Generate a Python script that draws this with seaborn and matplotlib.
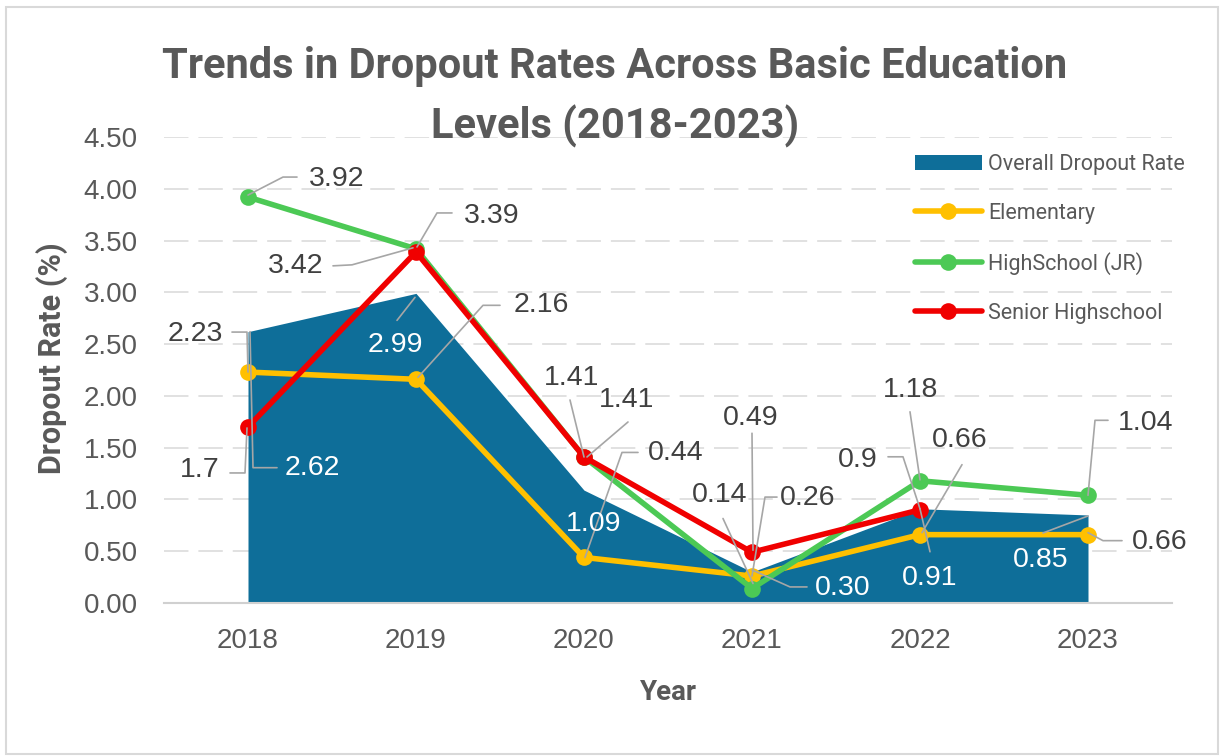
import matplotlib
matplotlib.use("Agg")
import matplotlib.pyplot as plt
import matplotlib.transforms as mtransforms
from matplotlib.lines import Line2D
from matplotlib.patches import Patch, Rectangle
import pandas as pd
import seaborn as sns

# data
years = [2018, 2019, 2020, 2021, 2022, 2023]
overall = [2.62, 2.99, 1.09, 0.30, 0.91, 0.85]
elementary = [2.23, 2.16, 0.44, 0.26, 0.66, 0.66]
highschool_jr = [3.92, 3.42, 1.41, 0.14, 1.18, 1.04]
senior_high = [1.70, 3.39, 1.41, 0.49, 0.90, None]

series_names = ["Elementary", "HighSchool (JR)", "Senior Highschool"]
series_values = [elementary, highschool_jr, senior_high]
colors = {"Elementary": "#ffc000", "HighSchool (JR)": "#4cc955", "Senior Highschool": "#f00000"}
area_color = "#0e6e99"

# label placement (pixel offsets from the point, y down) and leader paths
overall_lab = [(64, 136), (-21, 52), (10, 34), (91, 16), (10, 69), (-47, 45)]
overall_lead = [[(2, 0), (5, 136), (29, 136)], [(-1, 4), (-19, 27)], None,
                [(0, -2), (38, 15), (55, 15)], [(10, 43), (0, 0)], [(-45, 18), (0, 1)]]
elem_lab = [(-53, -38), (125, -74), (92, -104), (56, -78), (40, -95), (72, 7)]
elem_lead = [[(0, 0), (-1, -40), (-16, -40)], [(2, -2), (67, -74), (84, -74)],
             [(1, 0), (38, -105), (54, -105)], [(0, 0), (13, -79), (25, -79)],
             [(2, -2), (42, -70)], [(0, -2), (15, 6), (34, 6)]]
hs_lab = [(89, -18), (-120, 17), (43, -57), (-32, -94), (-9, -91), (58, -72)]
hs_lead = [[(0, -2), (35, -20), (49, -20)], [(-3, -1), (-64, 16), (-83, 17)],
           [(3, 0), (44, -35)], [(1, -5), (-29, -70)], [(0, -1), (-10, -69)],
           [(0, 0), (7, -75), (20, -75)]]
senior_lab = [(-48, 43), (76, -36), (-12, -79), (-1, -134), (-62, -50)]
senior_lead = [[(-1, 1), (-3, 46), (-18, 46)], [(1, -5), (21, -39), (36, -39)],
               [(0, 0), (-14, -57)], [(1, -2), (0, -119)], [(0, -1), (-17, -53), (-32, -53)]]

sns.set_style("white")
plt.rcParams["font.family"] = ["Liberation Sans", "DejaVu Sans"]

W, H = 1222, 756
fig = plt.figure(figsize=(W / 100, H / 100), dpi=100)
ax = fig.add_axes([164 / W, 1 - 603 / H, (1172 - 164) / W, (603 - 137) / H])

ax.fill_between(years, overall, 0, color=area_color, linewidth=0, zorder=1)

rows = []
for name, vals in zip(series_names, series_values):
    for yr, v in zip(years, vals):
        if v is not None:
            rows.append({"Year": yr, "Rate": v, "Level": name})
df = pd.DataFrame(rows)
sns.lineplot(data=df, x="Year", y="Rate", hue="Level", hue_order=series_names,
             palette=colors, marker="o", markersize=12, markeredgewidth=0,
             linewidth=4, estimator=None, legend=False, ax=ax, zorder=3)

ax.set_xlim(2017.5, 2023.5)
ax.set_ylim(0, 4.5)
ax.set_xticks(years)
ax.set_xticklabels([str(y) for y in years])
yt = [i * 0.5 for i in range(10)]
ax.set_yticks(yt)
ax.set_yticklabels([f"{v:.2f}" for v in yt])
ax.tick_params(axis="both", length=0, labelsize=20, labelcolor="#595959")
ax.tick_params(axis="y", pad=19)
ax.tick_params(axis="x", pad=18)
ax.set_axisbelow(True)
ax.yaxis.grid(True, linestyle=(0, (16, 6.5)), color="#d9d9d9", linewidth=1.1)
ax.xaxis.grid(False)
for s in ["top", "left", "right"]:
    ax.spines[s].set_visible(False)
ax.spines["bottom"].set_color("#d0d0d0")
ax.spines["bottom"].set_linewidth(1.5)
ax.spines["bottom"].set_zorder(2)

ax.set_xlabel("Year", fontsize=20, fontweight="bold", color="#595959", family=["Roboto", "DejaVu Sans"])
ax.xaxis.set_label_coords(0.5, (603 - 692) / 466)
ax.xaxis.label.set_va("center")
ax.set_ylabel("Dropout Rate (%)", fontsize=22, fontweight="bold", color="#595959", family=["Roboto", "DejaVu Sans"])
ax.yaxis.set_label_coords((52 - 164) / 1008, (603 - 358) / 466)
ax.yaxis.label.set_va("center")


def put_label(x, y, text, off, path, color):
    if path is not None:
        tr = mtransforms.ScaledTranslation(x, y, ax.transData)
        ln = Line2D([p[0] for p in path], [-p[1] for p in path], transform=tr,
                    color="#a6a6a6", linewidth=1.2, zorder=6, clip_on=False)
        ax.add_artist(ln)
    ax.annotate(text, xy=(x, y), xytext=(off[0], -off[1]), textcoords="offset pixels",
                ha="center", va="center", fontsize=20.5, color=color, zorder=7)


for yr, v, off, path in zip(years, overall, overall_lab, overall_lead):
    put_label(yr, v, f"{v:.2f}", off, path, "white")
for vals, labs, leads in [(elementary, elem_lab, elem_lead), (highschool_jr, hs_lab, hs_lead),
                          (senior_high, senior_lab, senior_lead)]:
    for yr, v, off, path in zip(years, vals, labs, leads):
        if v is not None:
            put_label(yr, v, f"{v:g}", off, path, "#404040")

handles = [Patch(facecolor=area_color, edgecolor="none", label="Overall Dropout Rate")]
for name in series_names:
    handles.append(Line2D([], [], color=colors[name], linewidth=4, marker="o",
                          markersize=12, markeredgewidth=0, label=name))
leg = ax.legend(handles=handles, loc="upper left", bbox_to_anchor=(915 / W, 1 - 154 / H),
                bbox_transform=fig.transFigure, frameon=False, borderpad=0, borderaxespad=0,
                handlelength=3.1, handletextpad=0.3, labelspacing=1.3,
                prop={"family": ["Roboto", "DejaVu Sans"], "size": 15.5})
for t in leg.get_texts():
    t.set_color("#595959")

fig.text(615 / W, 1 - 97 / H, "Trends in Dropout Rates Across Basic Education\nLevels (2018-2023)",
         ha="center", va="center", fontsize=30, fontweight="bold", color="#595959",
         family=["Roboto", "DejaVu Sans"], linespacing=1.5)

fig.patches.append(Rectangle((6 / W, 2 / H), (1218 - 6) / W, (749 - 2) / H, transform=fig.transFigure,
                             fill=False, edgecolor="#d9d9d9", linewidth=1.5))

fig.savefig("out.png", dpi=100)
